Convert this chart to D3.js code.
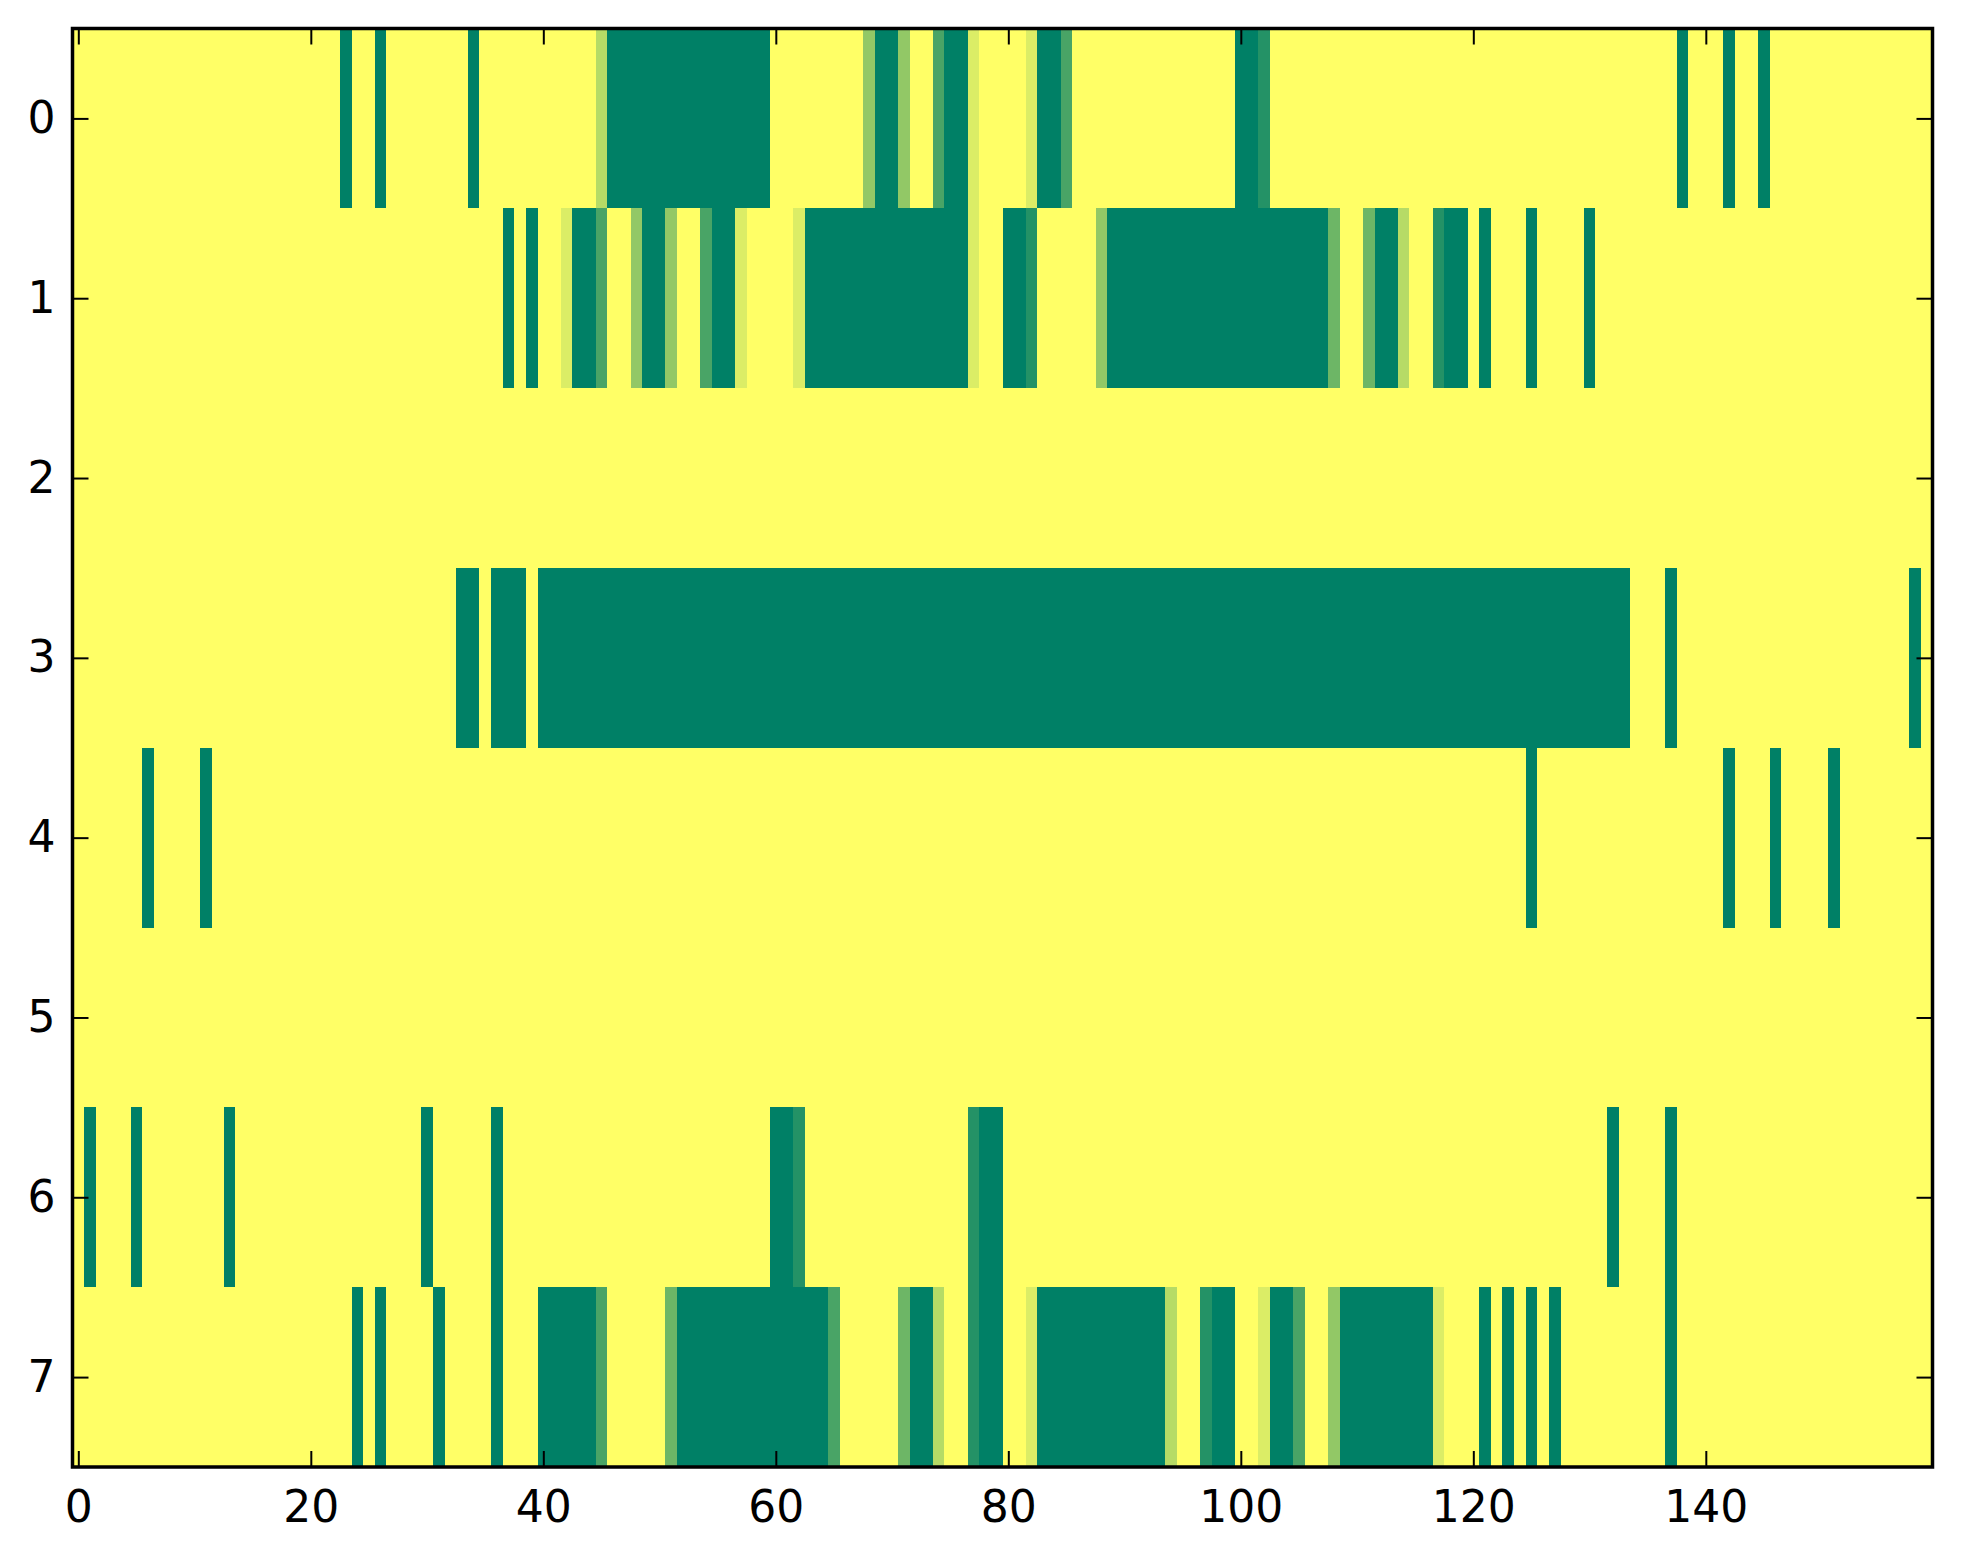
<!DOCTYPE html>
<html>
<head>
<meta charset="utf-8">
<script src="https://cdn.jsdelivr.net/npm/d3@7"></script>
<style>
  html, body { margin: 0; padding: 0; background: #ffffff; }
  svg { display: block; }
</style>
</head>
<body>
<svg id="chart" width="1963" height="1564"></svg>
<script>
// ---- data: each row = 160 cells, value 0 (dark green) .. 7 (yellow) ----
const row0 = [
  7,7,7,7,7,7,7,7,7,7, 7,7,7,7,7,7,7,7,7,7, 7,7,7,0,7,7,0,7,7,7, 7,7,7,7,0,7,7,7,7,7,
  7,7,7,7,7,5,0,0,0,0, 0,0,0,0,0,0,0,0,0,0, 7,7,7,7,7,7,7,7,4,0, 0,4,7,7,2,0,0,6,7,7,
  7,7,6,0,0,2,7,7,7,7, 7,7,7,7,7,7,7,7,7,7, 0,0,1,7,7,7,7,7,7,7, 7,7,7,7,7,7,7,7,7,7,
  7,7,7,7,7,7,7,7,7,7, 7,7,7,7,7,7,7,7,0,7, 7,7,0,7,7,0,7,7,7,7, 7,7,7,7,7,7,7,7,7,7
];
const row1 = [
  7,7,7,7,7,7,7,7,7,7, 7,7,7,7,7,7,7,7,7,7, 7,7,7,7,7,7,7,7,7,7, 7,7,7,7,7,7,7,0,7,0,
  7,7,6,0,0,2,7,7,4,0, 0,4,7,7,2,0,0,6,7,7, 7,7,6,0,0,0,0,0,0,0, 0,0,0,0,0,0,0,6,7,7,
  0,0,1,7,7,7,7,7,4,0, 0,0,0,0,0,0,0,0,0,0, 0,0,0,0,0,0,0,0,3,7, 7,3,0,0,5,7,7,1,0,0,
  7,0,7,7,7,0,7,7,7,7, 0,7,7,7,7,7,7,7,7,7, 7,7,7,7,7,7,7,7,7,7, 7,7,7,7,7,7,7,7,7,7
];
const row2 = [
  7,7,7,7,7,7,7,7,7,7, 7,7,7,7,7,7,7,7,7,7, 7,7,7,7,7,7,7,7,7,7, 7,7,7,7,7,7,7,7,7,7,
  7,7,7,7,7,7,7,7,7,7, 7,7,7,7,7,7,7,7,7,7, 7,7,7,7,7,7,7,7,7,7, 7,7,7,7,7,7,7,7,7,7,
  7,7,7,7,7,7,7,7,7,7, 7,7,7,7,7,7,7,7,7,7, 7,7,7,7,7,7,7,7,7,7, 7,7,7,7,7,7,7,7,7,7,
  7,7,7,7,7,7,7,7,7,7, 7,7,7,7,7,7,7,7,7,7, 7,7,7,7,7,7,7,7,7,7, 7,7,7,7,7,7,7,7,7,7
];
const row3 = [
  7,7,7,7,7,7,7,7,7,7, 7,7,7,7,7,7,7,7,7,7, 7,7,7,7,7,7,7,7,7,7, 7,7,7,0,0,7,0,0,0,7,
  0,0,0,0,0,0,0,0,0,0, 0,0,0,0,0,0,0,0,0,0, 0,0,0,0,0,0,0,0,0,0, 0,0,0,0,0,0,0,0,0,0,
  0,0,0,0,0,0,0,0,0,0, 0,0,0,0,0,0,0,0,0,0, 0,0,0,0,0,0,0,0,0,0, 0,0,0,0,0,0,0,0,0,0,
  0,0,0,0,0,0,0,0,0,0, 0,0,0,0,7,7,7,0,7,7, 7,7,7,7,7,7,7,7,7,7, 7,7,7,7,7,7,7,7,0,7
];
const row4 = [
  7,7,7,7,7,7,0,7,7,7, 7,0,7,7,7,7,7,7,7,7, 7,7,7,7,7,7,7,7,7,7, 7,7,7,7,7,7,7,7,7,7,
  7,7,7,7,7,7,7,7,7,7, 7,7,7,7,7,7,7,7,7,7, 7,7,7,7,7,7,7,7,7,7, 7,7,7,7,7,7,7,7,7,7,
  7,7,7,7,7,7,7,7,7,7, 7,7,7,7,7,7,7,7,7,7, 7,7,7,7,7,7,7,7,7,7, 7,7,7,7,7,7,7,7,7,7,
  7,7,7,7,7,0,7,7,7,7, 7,7,7,7,7,7,7,7,7,7, 7,7,0,7,7,7,0,7,7,7, 7,0,7,7,7,7,7,7,7,7
];
const row5 = [
  7,7,7,7,7,7,7,7,7,7, 7,7,7,7,7,7,7,7,7,7, 7,7,7,7,7,7,7,7,7,7, 7,7,7,7,7,7,7,7,7,7,
  7,7,7,7,7,7,7,7,7,7, 7,7,7,7,7,7,7,7,7,7, 7,7,7,7,7,7,7,7,7,7, 7,7,7,7,7,7,7,7,7,7,
  7,7,7,7,7,7,7,7,7,7, 7,7,7,7,7,7,7,7,7,7, 7,7,7,7,7,7,7,7,7,7, 7,7,7,7,7,7,7,7,7,7,
  7,7,7,7,7,7,7,7,7,7, 7,7,7,7,7,7,7,7,7,7, 7,7,7,7,7,7,7,7,7,7, 7,7,7,7,7,7,7,7,7,7
];
const row6 = [
  7,0,7,7,7,0,7,7,7,7, 7,7,7,0,7,7,7,7,7,7, 7,7,7,7,7,7,7,7,7,7, 0,7,7,7,7,7,0,7,7,7,
  7,7,7,7,7,7,7,7,7,7, 7,7,7,7,7,7,7,7,7,7, 0,0,1,7,7,7,7,7,7,7, 7,7,7,7,7,7,7,1,0,0,
  7,7,7,7,7,7,7,7,7,7, 7,7,7,7,7,7,7,7,7,7, 7,7,7,7,7,7,7,7,7,7, 7,7,7,7,7,7,7,7,7,7,
  7,7,7,7,7,7,7,7,7,7, 7,7,0,7,7,7,7,0,7,7, 7,7,7,7,7,7,7,7,7,7, 7,7,7,7,7,7,7,7,7,7
];
const row7 = [
  7,7,7,7,7,7,7,7,7,7, 7,7,7,7,7,7,7,7,7,7, 7,7,7,7,0,7,0,7,7,7, 7,0,7,7,7,7,0,7,7,7,
  0,0,0,0,0,2,7,7,7,7, 7,3,0,0,0,0,0,0,0,0, 0,0,0,0,0,2,7,7,7,7, 7,3,0,0,5,7,7,1,0,0,
  7,7,6,0,0,0,0,0,0,0, 0,0,0,0,5,7,7,1,0,0, 7,7,6,0,0,2,7,7,4,0, 0,0,0,0,0,0,0,6,7,7,
  7,0,7,0,7,0,7,0,7,7, 7,7,7,7,7,7,7,0,7,7, 7,7,7,7,7,7,7,7,7,7, 7,7,7,7,7,7,7,7,7,7
];
const rows = [row0, row1, row2, row3, row4, row5, row6, row7];
const maxValue = 7;
const xTickValues = [0, 20, 40, 60, 80, 100, 120, 140];
const yTickValues = [0, 1, 2, 3, 4, 5, 6, 7];

// ---- layout ----
const plotLeft = 72.5, plotRight = 1932.5, plotTop = 28.5, plotBottom = 1467;
const nCols = row0.length, nRows = rows.length;
const svg = d3.select("#chart");

const xBand = d3.scaleBand().domain(d3.range(nCols)).range([plotLeft, plotRight]).padding(0);
const yBand = d3.scaleBand().domain(d3.range(nRows)).range([plotTop, plotBottom]).padding(0);
const xLin = d3.scaleLinear().domain([-0.5, nCols - 0.5]).range([plotLeft, plotRight]);
const yLin = d3.scaleLinear().domain([-0.5, nRows - 0.5]).range([plotTop, plotBottom]);

// matplotlib "summer" colormap
const summer = t => d3.rgb(Math.round(255 * t), Math.round(255 * (0.5 + 0.5 * t)), 102).toString();
const color = d3.scaleLinear().domain([0, maxValue]).range([0, 1]);

const cells = [];
rows.forEach((r, ri) => r.forEach((v, ci) => cells.push({ r: ri, c: ci, v })));

svg.append("g")
  .selectAll("rect")
  .data(cells)
  .join("rect")
  .attr("x", d => xBand(d.c))
  .attr("y", d => yBand(d.r))
  .attr("width", xBand.bandwidth() + 0.6)
  .attr("height", yBand.bandwidth() + 0.6)
  .attr("fill", d => summer(color(d.v)))
  .attr("shape-rendering", "crispEdges");

// ---- axes ----
const font = "DejaVu Sans";
const tickLen = 16;

const gx = svg.append("g").attr("transform", `translate(0,${plotBottom})`)
  .call(d3.axisBottom(xLin).tickValues(xTickValues).tickSizeInner(-tickLen).tickSizeOuter(0).tickPadding(24).tickFormat(d3.format("d")));
const gxt = svg.append("g").attr("transform", `translate(0,${plotTop})`)
  .call(d3.axisTop(xLin).tickValues(xTickValues).tickSizeInner(-tickLen).tickSizeOuter(0).tickFormat(""));
const gy = svg.append("g").attr("transform", `translate(${plotLeft},0)`)
  .call(d3.axisLeft(yLin).tickValues(yTickValues).tickSizeInner(-tickLen).tickSizeOuter(0).tickPadding(17).tickFormat(d3.format("d")));
const gyr = svg.append("g").attr("transform", `translate(${plotRight},0)`)
  .call(d3.axisRight(yLin).tickValues(yTickValues).tickSizeInner(-tickLen).tickSizeOuter(0).tickFormat(""));

[gx, gxt, gy, gyr].forEach(g => {
  g.select(".domain").remove();
  g.selectAll(".tick line").attr("stroke", "#000").attr("stroke-width", 2);
  g.selectAll(".tick text").attr("fill", "#000").style("font-family", font).style("font-size", "44px");
});

// frame
svg.append("rect")
  .attr("x", plotLeft).attr("y", plotTop)
  .attr("width", plotRight - plotLeft).attr("height", plotBottom - plotTop)
  .attr("fill", "none").attr("stroke", "#000").attr("stroke-width", 3.5);
</script>
</body>
</html>
